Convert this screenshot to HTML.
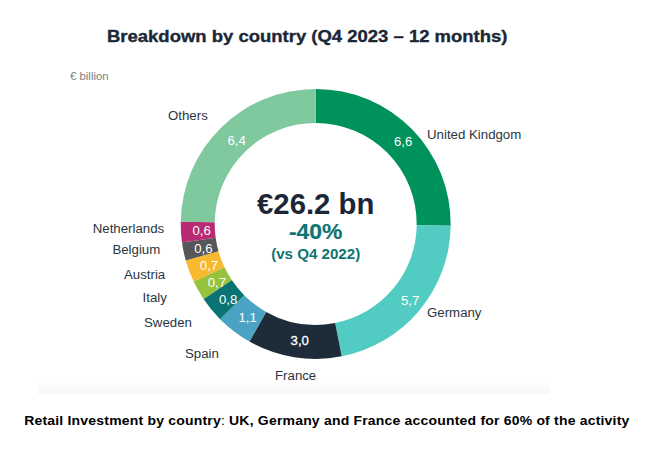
<!DOCTYPE html>
<html><head><meta charset="utf-8"><style>
html,body{margin:0;padding:0;background:#fff;}
body{width:661px;height:449px;position:relative;overflow:hidden;font-family:"Liberation Sans",sans-serif;}
.t{position:absolute;white-space:nowrap;line-height:1;}
.lbl{font-size:13.25px;margin-top:0.8px;color:#2a3440;}
.val{font-size:13.2px;margin-top:0.4px;color:#fff;}
svg{position:absolute;left:0;top:0;}
</style></head><body>
<div class="t" style="left:38px;top:381px;width:512px;height:13px;background:linear-gradient(#ffffff,#f9f9f9 60%,#f7f7f7);"></div>
<svg width="661" height="449" viewBox="0 0 661 449">
<path d="M315.70 88.90A135.0 135.0 0 0 1 450.69 225.78L416.69 225.31A101.0 101.0 0 0 0 315.70 122.90Z" fill="#00925b"/>
<path d="M450.69 225.78A135.0 135.0 0 0 1 341.69 356.37L335.14 323.01A101.0 101.0 0 0 0 416.69 225.31Z" fill="#52cbc2"/>
<path d="M341.69 356.37A135.0 135.0 0 0 1 249.43 341.51L266.12 311.89A101.0 101.0 0 0 0 335.14 323.01Z" fill="#1e2b39"/>
<path d="M249.43 341.51A135.0 135.0 0 0 1 220.07 319.19L244.16 295.19A101.0 101.0 0 0 0 266.12 311.89Z" fill="#4ba3c3"/>
<path d="M220.07 319.19A135.0 135.0 0 0 1 203.52 299.00L231.77 280.09A101.0 101.0 0 0 0 244.16 295.19Z" fill="#0a7373"/>
<path d="M203.52 299.00A135.0 135.0 0 0 1 193.65 281.59L224.39 267.06A101.0 101.0 0 0 0 231.77 280.09Z" fill="#96c23c"/>
<path d="M193.65 281.59A135.0 135.0 0 0 1 185.74 260.43L218.47 251.23A101.0 101.0 0 0 0 224.39 267.06Z" fill="#f9b92f"/>
<path d="M185.74 260.43A135.0 135.0 0 0 1 181.98 242.46L215.66 237.78A101.0 101.0 0 0 0 218.47 251.23Z" fill="#55575b"/>
<path d="M181.98 242.46A135.0 135.0 0 0 1 180.72 221.78L214.71 222.31A101.0 101.0 0 0 0 215.66 237.78Z" fill="#b82a74"/>
<path d="M180.72 221.78A135.0 135.0 0 0 1 315.70 88.90L315.70 122.90A101.0 101.0 0 0 0 214.71 222.31Z" fill="#80c99f"/>
</svg>
<div class="t" style="left:107px;top:27.6px;font-size:17px;font-weight:bold;color:#1b2736;transform:scaleX(1.087);transform-origin:0 0;-webkit-text-stroke:0.35px #1b2736;">Breakdown by country (Q4 2023 – 12 months)</div>
<div class="t" style="left:70px;top:70.6px;font-size:11.4px;color:#7c7f83;">€ billion</div>
<div class="t lbl" style="left:168px;top:108px;">Others</div>
<div class="t lbl" style="left:427px;top:127px;">United Kindgom</div>
<div class="t lbl" style="left:427px;top:305px;">Germany</div>
<div class="t lbl" style="left:275px;top:368px;">France</div>
<div class="t lbl" style="left:185px;top:346px;">Spain</div>
<div class="t lbl" style="left:144px;top:315.7px;">Sweden</div>
<div class="t lbl" style="left:142.6px;top:290px;">Italy</div>
<div class="t lbl" style="left:124px;top:267px;">Austria</div>
<div class="t lbl" style="left:112.4px;top:242px;">Belgium</div>
<div class="t lbl" style="left:92.7px;top:221px;">Netherlands</div>
<div class="t val" style="left:227.5px;top:133.5px;">6,4</div>
<div class="t val" style="left:394px;top:135px;">6,6</div>
<div class="t val" style="left:401px;top:293.5px;">5,7</div>
<div class="t val" style="left:290.6px;top:334px;-webkit-text-stroke:0.3px #fff;">3,0</div>
<div class="t val" style="left:238.5px;top:311px;">1,1</div>
<div class="t val" style="left:219px;top:293px;">0,8</div>
<div class="t val" style="left:207.7px;top:276px;">0,7</div>
<div class="t val" style="left:199.8px;top:258.7px;">0,7</div>
<div class="t val" style="left:194.2px;top:241.6px;">0,6</div>
<div class="t val" style="left:192.5px;top:223.7px;">0,6</div>
<div class="t" style="left:0;width:631.4px;text-align:center;top:189px;font-size:29.3px;font-weight:bold;color:#1b2736;">€26.2 bn</div>
<div class="t" style="left:0;width:631.4px;text-align:center;top:220.7px;font-size:21.8px;font-weight:bold;color:#0e7672;transform:scaleX(1.05);-webkit-text-stroke:0.2px #0e7672;">-40%</div>
<div class="t" style="left:0;width:631.4px;text-align:center;top:246.5px;font-size:14.6px;font-weight:bold;color:#0e7672;transform:scaleX(1.035);">(vs Q4 2022)</div>
<div class="t" style="left:24.2px;top:412.7px;font-size:14px;letter-spacing:0.19px;color:#000;transform:scaleY(0.95);transform-origin:0 12px;"><b>Retail Investment by country</b>: <b>UK, Germany and France accounted for 60% of the activity</b></div>
</body></html>
